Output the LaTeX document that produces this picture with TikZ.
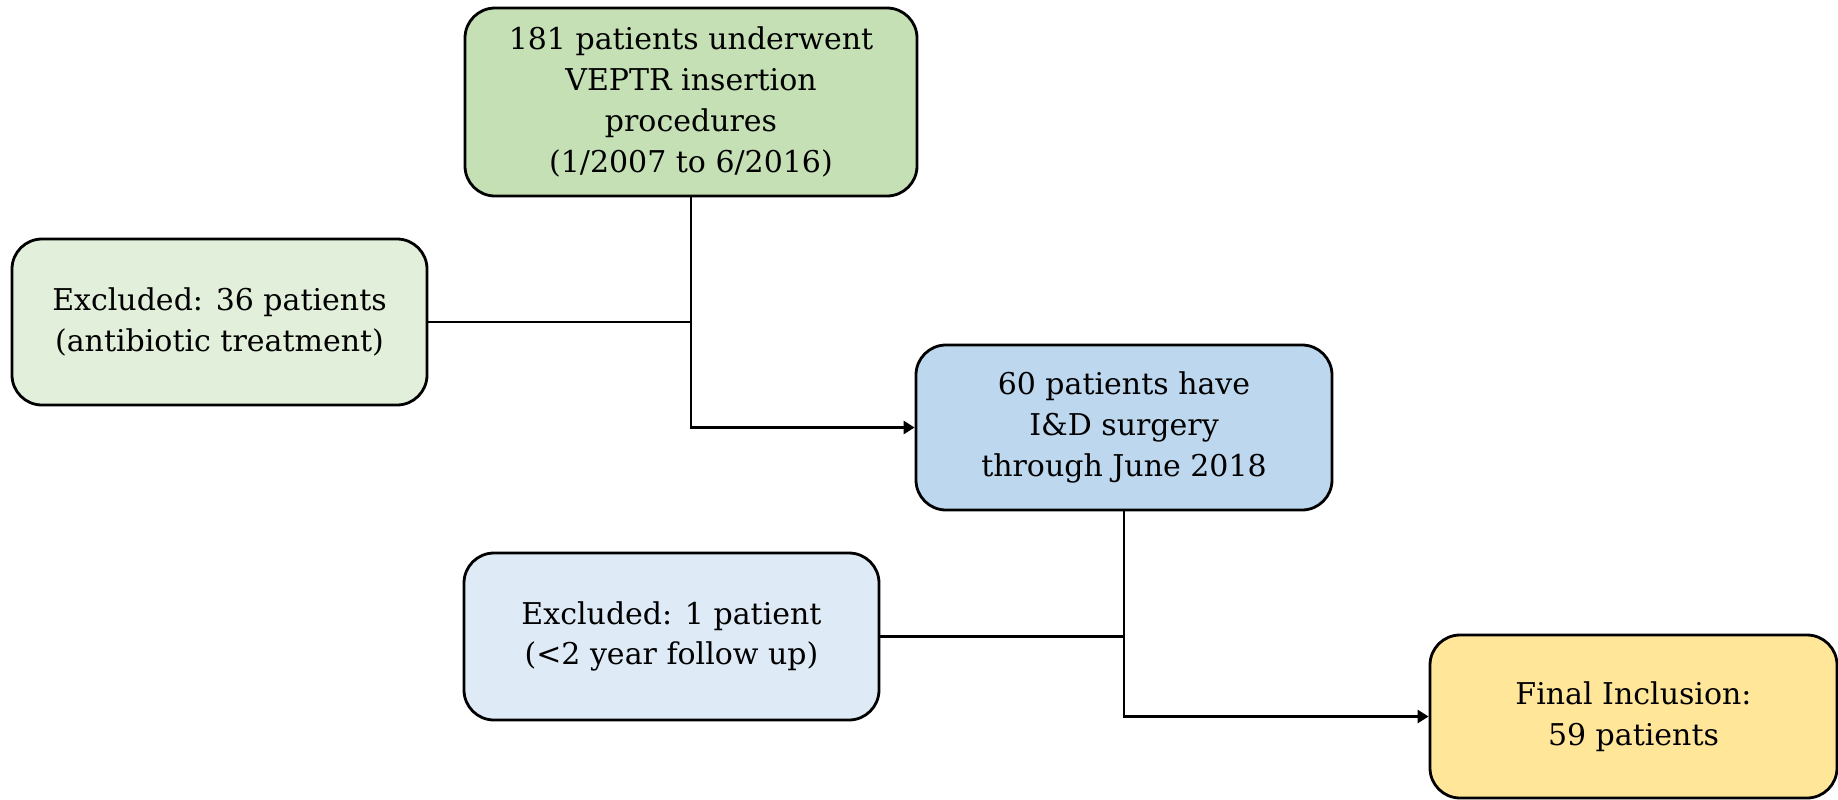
\documentclass[tikz,border=0pt]{standalone}
\usepackage{fontspec}
\setmainfont{DejaVu Serif}
\usetikzlibrary{arrows.meta}
\definecolor{cgreen}{HTML}{C5E0B4}
\definecolor{clgreen}{HTML}{E2EFDA}
\definecolor{cblue}{HTML}{BDD7EE}
\definecolor{clblue}{HTML}{DEEBF7}
\definecolor{cyellow}{HTML}{FFE699}
\tikzset{
  box/.style={draw=black, line width=1.4pt, rounded corners=15pt, align=center, inner sep=0pt,
    font=\fontsize{15}{20.4}\selectfont, text=black},
  conn/.style={draw=black, line width=1.3pt},
  arr/.style={conn, -{Triangle[length=5.5pt,width=6.5pt]}}
}
\begin{document}
\begin{tikzpicture}[x=0.5pt,y=-0.5pt]
\useasboundingbox (0,0) rectangle (1838,799);
\node[box, fill=cgreen, minimum width=226pt, minimum height=94pt] (b1) at (691,102)
  {181 patients underwent\\VEPTR insertion\\procedures\\(1/2007 to 6/2016)};
\node[box, fill=clgreen, minimum width=207.5pt, minimum height=83pt] (b2) at (219.5,322)
  {Excluded: 36 patients\\(antibiotic treatment)};
\node[box, fill=cblue, minimum width=208pt, minimum height=82.5pt] (b3) at (1124,427.5)
  {60 patients have\\I\&D surgery\\through June 2018};
\node[box, fill=clblue, minimum width=207.5pt, minimum height=83.5pt] (b4) at (671.5,636.5)
  {Excluded: 1 patient\\(<2 year follow up)};
\node[box, fill=cyellow, minimum width=203.5pt, minimum height=81.5pt] (b5) at (1633.5,716.5)
  {Final Inclusion:\\59 patients};
\draw[arr] (b1.south) |- (b3.west);
\draw[conn] (b2.east) -- (b2.east -| b1.south);
\draw[arr] (b3.south) |- (b5.west);
\draw[conn] (b4.east) -- (b4.east -| b3.south);
\end{tikzpicture}
\end{document}
